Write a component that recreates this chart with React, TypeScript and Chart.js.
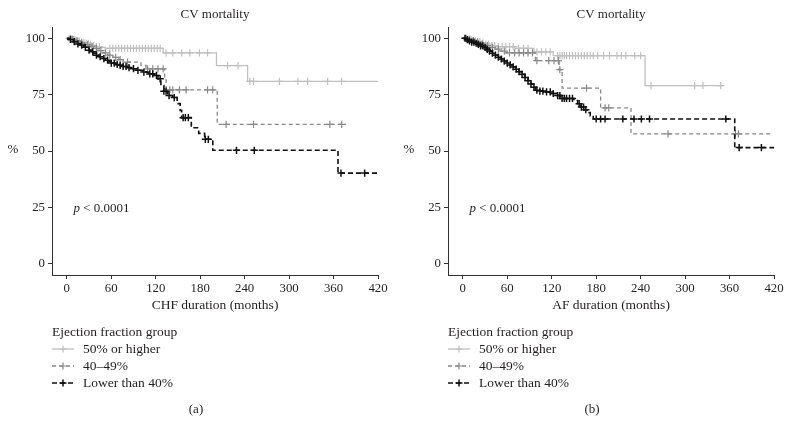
import React, { useEffect, useRef } from "react";
import { Chart, registerables } from "chart.js";
Chart.register(...registerables);

const xTicks = [0, 60, 120, 180, 240, 300, 360, 420];
const yTicks = [0, 25, 50, 75, 100];
const groupLabels = ["50% or higher", "40\u201349%", "Lower than 40%"];
const chartTitle = "CV mortality";
const pText = " < 0.0001";

// Panel (a): CHF duration — [month, survival %] event steps
const chfHigh: [number, number][] = [
  [0, 100], [4, 99.7], [8, 99.4], [12, 99], [16, 98.6], [20, 98.2], [25, 97.8], [30, 97.3],
  [35, 96.8], [40, 96.3], [45, 95.9], [52, 95.5], [130, 93.5], [202, 87.9], [244, 80.9], [420, 80.9],
];
const chfHighCensor = [
  3, 5, 7, 9, 11, 13, 15, 17, 20, 23, 26, 29, 32, 36, 40, 44, 58, 62, 66, 70, 74, 78, 82, 86, 90,
  94, 98, 102, 106, 110, 114, 118, 122, 126, 134, 143, 155, 166, 179, 190, 217, 231, 247, 252, 287,
  312, 325, 352, 371,
];
const chfMid: [number, number][] = [
  [0, 100], [6, 99.5], [12, 98.8], [18, 98], [24, 97.2], [30, 96.4], [36, 95.5], [42, 94.5],
  [48, 93.5], [55, 92.5], [62, 91.5], [70, 90.5], [76, 89.4], [100, 88], [107, 86.4], [132, 82],
  [134, 77.1], [203, 61.8], [377, 61.8],
];
const chfMidCensor = [
  8, 14, 20, 28, 34, 40, 46, 52, 58, 66, 72, 82, 109, 116, 123, 130, 139, 143, 152, 161, 190, 197,
  215, 252, 355, 371,
];
const chfLow: [number, number][] = [
  [0, 100], [3, 99.5], [6, 99], [9, 98.5], [12, 98], [15, 97.5], [18, 97], [21, 96.5], [24, 96],
  [27, 95.3], [30, 94.7], [33, 94], [36, 93.3], [40, 92.5], [44, 91.8], [48, 91], [52, 90.3],
  [56, 89.6], [60, 89], [65, 88.4], [70, 88], [76, 87.5], [82, 87], [88, 86.5], [95, 85.8],
  [102, 85], [110, 84.2], [118, 83.5], [123, 82], [127, 79], [131, 76.5], [136, 74.6], [143, 73.7],
  [149, 71], [153, 68], [155, 64.8], [168, 60.3], [178, 57.8], [186, 55.2], [197, 50.3],
  [366, 40.2], [420, 40.2],
];
const chfLowCensor = [
  5, 10, 15, 20, 25, 30, 35, 40, 45, 50, 55, 60, 64, 68, 72, 76, 80, 84, 90, 96, 104, 112, 116,
  121, 126, 131, 134, 138, 145, 157, 160, 164, 187, 191, 229, 253, 370, 402,
];

// Panel (b): AF duration
const afHigh: [number, number][] = [
  [0, 100], [6, 99.5], [12, 99], [18, 98.5], [24, 98], [30, 97.4], [36, 96.8], [44, 96.3],
  [70, 95.5], [96, 94], [122, 92.3], [246, 79], [350, 79],
];
const afHighCensor = [
  3, 5, 8, 11, 14, 17, 20, 23, 27, 31, 35, 39, 43, 48, 53, 58, 63, 68, 75, 82, 88, 100, 106, 112,
  118, 128, 131, 134, 137, 140, 144, 148, 152, 156, 160, 164, 168, 172, 176, 182, 190, 198, 208,
  214, 220, 232, 240, 254, 313, 324, 348,
];
const afMid: [number, number][] = [
  [0, 100], [6, 99.5], [12, 99], [18, 98.3], [24, 97.5], [30, 96.8], [36, 96], [42, 95.2],
  [50, 94.3], [58, 93.5], [98, 90.1], [130, 86.1], [134, 77.9], [186, 69.1], [227, 57.6],
  [418, 57.6],
];
const afMidCensor = [
  4, 9, 14, 20, 26, 33, 40, 48, 56, 63, 70, 76, 82, 88, 94, 100, 116, 123, 129, 131, 167, 192, 197,
  277, 368, 372,
];
const afLow: [number, number][] = [
  [0, 100], [4, 99.4], [8, 98.8], [12, 98.3], [16, 97.8], [20, 97.3], [24, 96.6], [28, 95.9],
  [32, 95.1], [36, 94.3], [40, 93.4], [44, 92.5], [48, 91.6], [52, 90.8], [56, 89.9], [60, 89],
  [64, 88.2], [68, 87.3], [72, 86.3], [76, 85.2], [80, 84], [84, 82.6], [88, 81.2], [92, 79.7],
  [95, 78.3], [98, 77], [104, 76.6], [112, 76.2], [120, 75.5], [126, 74.6], [132, 73.3],
  [150, 72.4], [155, 71], [159, 69.5], [164, 68.3], [168, 67], [172, 65.6], [176, 64.2],
  [367, 51.5], [420, 51.5],
];
const afLowCensor = [
  3, 6, 9, 12, 15, 18, 21, 24, 27, 30, 33, 36, 40, 44, 48, 52, 56, 60, 64, 68, 72, 76, 80, 84, 88,
  92, 96, 100, 104, 108, 113, 118, 122, 128, 131, 134, 137, 140, 144, 148, 157, 160, 163, 166, 180,
  186, 192, 216, 231, 241, 252, 355, 373, 403,
];

const SERIF = '"Liberation Serif", "DejaVu Serif", serif';
const TEXT = "#231f20";
const lineColors = ["#c0c0c0", "#888888", "#111111"];
const lineDashes: number[][] = [[], [4, 3], [5, 3]];
const lineWidths = [1.3, 1.3, 1.6];

function levelAt(curve: [number, number][], t: number) {
  let y = curve[0][1];
  for (const [x, v] of curve) {
    if (x <= t) y = v;
    else break;
  }
  return y;
}

type PanelProps = {
  curves: [number, number][][];
  censors: number[][];
  xTitle: string;
  tag: string;
};

function Panel({ curves, censors, xTitle, tag }: PanelProps) {
  const ref = useRef<HTMLCanvasElement>(null);
  useEffect(() => {
    if (!ref.current) return;
    const datasets: any[] = [];
    // black first so it is drawn on top
    for (let g = 2; g >= 0; g--) {
      datasets.push({
        type: "line",
        data: curves[g].map(([x, y]) => ({ x, y })),
        stepped: "before",
        borderColor: lineColors[g],
        borderWidth: lineWidths[g],
        borderDash: lineDashes[g],
        pointRadius: 0,
        fill: false,
      });
      datasets.push({
        type: "scatter",
        data: censors[g].map((t) => ({ x: t, y: levelAt(curves[g], t) })),
        pointStyle: "cross",
        pointRadius: 3.6,
        pointBorderWidth: g === 2 ? 1.5 : 1.2,
        borderColor: lineColors[g],
        backgroundColor: lineColors[g],
        showLine: false,
      });
    }
    const textPlugin = {
      id: "texts",
      afterDraw(chart: any) {
        const ctx = chart.ctx as CanvasRenderingContext2D;
        const area = chart.chartArea;
        const cx = (area.left + area.right) / 2;
        ctx.save();
        ctx.fillStyle = TEXT;
        ctx.textBaseline = "middle";
        ctx.font = `13px ${SERIF}`;
        ctx.textAlign = "center";
        ctx.fillText(chartTitle, cx, 15);
        ctx.fillText("%", 13, 150);
        ctx.fillText(tag, 196, 410);
        ctx.font = `13.5px ${SERIF}`;
        ctx.fillText(xTitle, cx, 305);
        // p value
        const px = chart.scales.x.getPixelForValue(9);
        const py = chart.scales.y.getPixelForValue(24.5);
        ctx.textAlign = "left";
        ctx.font = `italic 13px ${SERIF}`;
        ctx.fillText("p", px, py);
        const pw = ctx.measureText("p").width;
        ctx.font = `13px ${SERIF}`;
        ctx.fillText(pText, px + pw, py);
        // legend
        ctx.font = `13.5px ${SERIF}`;
        ctx.fillText("Ejection fraction group", 52, 332);
        const rows = [349, 366, 383];
        for (let g = 0; g < 3; g++) {
          const y = rows[g];
          ctx.strokeStyle = lineColors[g];
          ctx.lineWidth = lineWidths[g];
          ctx.setLineDash(lineDashes[g]);
          ctx.beginPath();
          ctx.moveTo(52, y);
          ctx.lineTo(74, y);
          ctx.stroke();
          ctx.setLineDash([]);
          ctx.lineWidth = g === 2 ? 1.5 : 1.2;
          ctx.beginPath();
          ctx.moveTo(59.5, y);
          ctx.lineTo(66.5, y);
          ctx.moveTo(63, y - 3.5);
          ctx.lineTo(63, y + 3.5);
          ctx.stroke();
          ctx.fillStyle = TEXT;
          ctx.fillText(groupLabels[g], 83, y);
        }
        ctx.restore();
      },
    };
    const chart = new Chart(ref.current, {
      type: "line",
      data: { datasets },
      options: {
        animation: false,
        responsive: false,
        layout: { padding: { top: 27, right: 18, bottom: 139, left: 0 } },
        plugins: { legend: { display: false }, tooltip: { enabled: false }, title: { display: false } },
        scales: {
          x: {
            type: "linear",
            min: -20,
            max: 420,
            afterBuildTicks: (s: any) => {
              s.ticks = xTicks.map((v) => ({ value: v }));
            },
            afterFit: (s: any) => {
              s.height = 22;
            },
            ticks: { font: { family: SERIF, size: 12.8 }, color: TEXT, padding: 2, maxRotation: 0 },
            grid: { display: true, drawOnChartArea: false, drawTicks: true, tickLength: 4, color: "#333" },
            border: { display: true, color: "#333", width: 1 },
          },
          y: {
            type: "linear",
            min: -5,
            max: 105,
            afterBuildTicks: (s: any) => {
              s.ticks = yTicks.map((v) => ({ value: v }));
            },
            afterFit: (s: any) => {
              s.width = 52;
            },
            ticks: { font: { family: SERIF, size: 12.8 }, color: TEXT, padding: 3 },
            grid: { display: true, drawOnChartArea: false, drawTicks: true, tickLength: 4, color: "#333" },
            border: { display: true, color: "#333", width: 1 },
          },
        },
      } as any,
      plugins: [textPlugin],
    });
    return () => chart.destroy();
  }, []);
  return <canvas ref={ref} width={396} height={436} style={{ display: "block", width: 396, height: 436 }} />;
}

export default function App() {
  return (
    <div
      style={{
        position: "fixed",
        left: 0,
        top: 0,
        width: 792,
        height: 436,
        background: "#fff",
        display: "flex",
      }}
    >
      <Panel
        curves={[chfHigh, chfMid, chfLow]}
        censors={[chfHighCensor, chfMidCensor, chfLowCensor]}
        xTitle="CHF duration (months)"
        tag="(a)"
      />
      <Panel
        curves={[afHigh, afMid, afLow]}
        censors={[afHighCensor, afMidCensor, afLowCensor]}
        xTitle="AF duration (months)"
        tag="(b)"
      />
    </div>
  );
}
